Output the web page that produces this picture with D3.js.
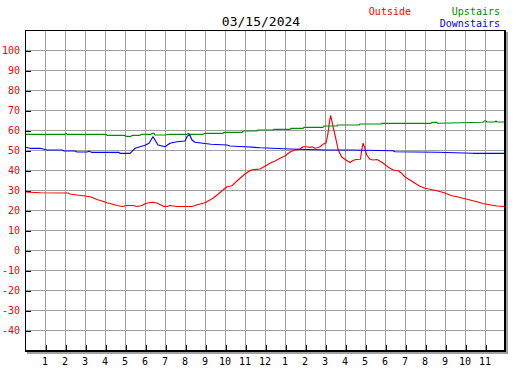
<!DOCTYPE html>
<html><head><meta charset="utf-8">
<script src="https://cdn.jsdelivr.net/npm/d3@7/dist/d3.min.js"></script>
<style>body{margin:0;background:#fff}svg{display:block}</style>
</head><body><svg id="c" width="527" height="370"></svg>
<script>
const title = "03/15/2024";
const legend = [["Outside","#ff0000"],["Upstairs","#008c00"],["Downstairs","#0000ff"]];
const yTicks = [100,90,80,70,60,50,40,30,20,10,0,-10,-20,-30,-40];
const xTickLabels = ["1","2","3","4","5","6","7","8","9","10","11","12","1","2","3","4","5","6","7","8","9","10","11"];

const outsideHours = [0,0.75,2.15,2.25,2.6,3.0,3.3,3.6,3.85,4.1,4.35,4.6,4.85,5.1,5.4,5.6,5.85,6.05,6.4,6.6,6.8,6.95,7.1,7.25,7.6,8.1,8.35,8.75,9.0,9.4,9.65,9.9,10.1,10.35,10.65,11.0,11.3,11.75,11.95,12.25,12.5,12.75,13.0,13.25,13.5,13.75,13.9,14.1,14.25,14.35,14.5,14.65,14.75,14.9,15.05,15.15,15.22,15.285,15.385,15.5,15.665,15.835,16.05,16.25,16.4,16.55,16.775,16.835,16.9,16.975,17.085,17.25,17.415,17.6,17.75,17.915,18.085,18.25,18.415,18.665,18.835,19.0,19.25,19.5,19.75,20.0,20.35,20.65,21.0,21.3,21.6,21.9,22.25,22.6,22.9,23.3,23.6,23.95];
const outside = [29.0,28.65,28.5,28.0,27.5,27.0,26.5,25.25,24.5,23.65,23.0,22.25,21.75,22.25,22.25,21.75,22.25,23.35,23.85,23.5,22.5,21.75,21.75,22.25,21.75,21.75,21.75,23.0,23.65,25.85,27.85,30.0,31.65,32.15,35.0,38.0,40.0,40.5,41.65,43.35,44.5,45.85,47.0,49.0,50.0,50.5,51.65,51.65,51.25,51.65,50.85,51.25,51.65,52.85,53.5,58.35,64.0,67.15,62.5,57.5,50.0,46.5,45.0,43.75,44.75,45.25,45.35,50.0,53.35,51.5,47.5,45.35,45.0,45.25,44.35,43.35,42.0,40.85,40.0,39.65,38.35,36.5,35.0,33.35,31.85,30.85,30.15,29.5,28.5,27.25,26.65,25.85,25.0,24.15,23.25,22.5,22.0,21.75];

const upHours = [0,2.0,2.05,2.1,4.05,4.1,5.0,5.05,5.3,5.35,5.75,5.8,6.3,6.35,6.45,6.5,7.0,7.25,8.1,8.15,8.25,8.9,9.0,9.9,9.95,10.85,10.9,11.6,11.65,12.4,12.45,13.25,13.3,13.9,13.95,14.9,14.95,15.6,15.65,16.7,16.75,17.8,17.85,20.3,20.35,20.6,20.65,22.9,22.95,23.05,23.1,23.5,23.55,23.6,24];
const upstairs = [57.85,57.85,58.3,57.85,57.85,57.35,57.35,56.85,56.85,57.35,57.35,57.85,57.85,58.3,58.3,57.5,57.5,57.85,57.85,58.3,57.85,57.85,58.35,58.35,58.85,58.85,59.5,59.5,60.0,60.0,60.35,60.35,60.85,60.85,61.35,61.35,62.0,62.0,62.5,62.5,63.0,63.0,63.35,63.35,63.85,63.85,63.35,63.85,64.5,64.5,64.0,64.0,64.5,64.0,64.0];

const downHours = [0,0.25,0.75,1.1,1.85,1.95,2.5,2.6,3.1,3.2,3.33,4.7,4.75,5.25,5.35,5.5,5.75,6.0,6.2,6.4,6.5,6.65,7.0,7.25,7.6,8.0,8.1,8.22,8.35,8.5,8.9,9.3,10.1,10.25,11.0,11.75,13.25,15.1,16.25,18.4,18.5,20.6,22.4,24];
const downstairs = [51.35,50.85,50.85,50.0,50.0,49.5,49.5,49.0,49.0,49.35,48.85,48.85,48.35,48.35,49.35,50.85,51.65,52.35,53.35,56.65,55.0,52.5,51.65,53.35,54.1,54.5,56.65,57.85,55.0,53.85,53.35,52.85,52.5,52.0,51.65,51.15,50.5,50.0,50.0,49.65,49.15,48.85,48.35,48.35];

const svg = d3.select("#c");
const L = 25, R = 505, T = 30, B = 350;
const x = d3.scaleLinear().domain([0,24]).range([L,R]);
const y = d3.scaleLinear().domain([-50,110]).range([B,T]);
const mono = "'DejaVu Sans Mono', monospace";

// grid
const g = svg.append("g").attr("shape-rendering","crispEdges");
g.selectAll(".vg").data(d3.range(1,24)).join("line")
  .attr("x1",d=>x(d)+0.5).attr("x2",d=>x(d)+0.5).attr("y1",T).attr("y2",B)
  .attr("stroke","#a0a0a0");
g.selectAll(".hg").data(yTicks).join("line")
  .attr("x1",L).attr("x2",R).attr("y1",d=>y(d)+0.5).attr("y2",d=>y(d)+0.5)
  .attr("stroke","#a0a0a0");

// axes (ticks)
const yAxis = d3.axisRight(y).tickValues(yTicks).tickSize(5).tickFormat("");
const ya = svg.append("g").attr("transform",`translate(${L+0.5},0.5)`).call(yAxis);
ya.select(".domain").remove();
ya.selectAll("line").attr("stroke","#000").attr("shape-rendering","crispEdges");
const xAxis = d3.axisTop(x).tickValues(d3.range(1,24)).tickSize(5).tickFormat("");
const xa = svg.append("g").attr("transform",`translate(0.5,${B})`).call(xAxis);
xa.select(".domain").remove();
xa.selectAll("line").attr("stroke","#000").attr("shape-rendering","crispEdges");

// y labels
svg.selectAll(".yl").data(yTicks).join("text")
  .attr("x",20).attr("y",d=>y(d)+4).attr("text-anchor","end")
  .attr("font-family",mono).attr("font-size",10).attr("fill","#ff0000").text(d=>d);
// x labels
svg.selectAll(".xl").data(xTickLabels).join("text")
  .attr("x",(d,i)=>x(i+1)).attr("y",365).attr("text-anchor","middle")
  .attr("font-family",mono).attr("font-size",10).attr("fill","#000").text(d=>d);

// series
const line = (hs) => d3.line().x((d,i)=>x(hs[i])).y(d=>y(d));
const series = [[outsideHours,outside,"#ff0000"],[upHours,upstairs,"#008c00"],[downHours,downstairs,"#0000ff"]];
series.forEach(([hs,vs,c])=>{
  svg.append("path").datum(vs).attr("d",line(hs)).attr("fill","none")
    .attr("stroke",c).attr("stroke-width",1.15).attr("stroke-linejoin","round");
});

// frame
const f = svg.append("g").attr("shape-rendering","crispEdges");
f.append("line").attr("x1",L+0.5).attr("x2",L+0.5).attr("y1",T).attr("y2",B+1).attr("stroke","#000");
f.append("line").attr("x1",L).attr("x2",R).attr("y1",T+0.5).attr("y2",T+0.5).attr("stroke","#000");
f.append("rect").attr("x",R-1).attr("y",T).attr("width",2).attr("height",B-T+2).attr("fill","#000");
f.append("rect").attr("x",L).attr("y",B).attr("width",R-L+1).attr("height",2).attr("fill","#000");
f.append("rect").attr("x",R+1).attr("y",T+2).attr("width",2).attr("height",B-T+2).attr("fill","#a0a0a0");
f.append("rect").attr("x",L+2).attr("y",B+2).attr("width",R-L+1).attr("height",2).attr("fill","#a0a0a0");

// title & legend
svg.append("text").attr("x",261).attr("y",26).attr("text-anchor","middle")
  .attr("font-family",mono).attr("font-size",13).attr("fill","#000").text(title);
svg.append("text").attr("x",411).attr("y",15).attr("text-anchor","end")
  .attr("font-family",mono).attr("font-size",10).attr("fill",legend[0][1]).text(legend[0][0]);
svg.append("text").attr("x",500).attr("y",15).attr("text-anchor","end")
  .attr("font-family",mono).attr("font-size",10).attr("fill",legend[1][1]).text(legend[1][0]);
svg.append("text").attr("x",500).attr("y",27).attr("text-anchor","end")
  .attr("font-family",mono).attr("font-size",10).attr("fill",legend[2][1]).text(legend[2][0]);
</script></body></html>
